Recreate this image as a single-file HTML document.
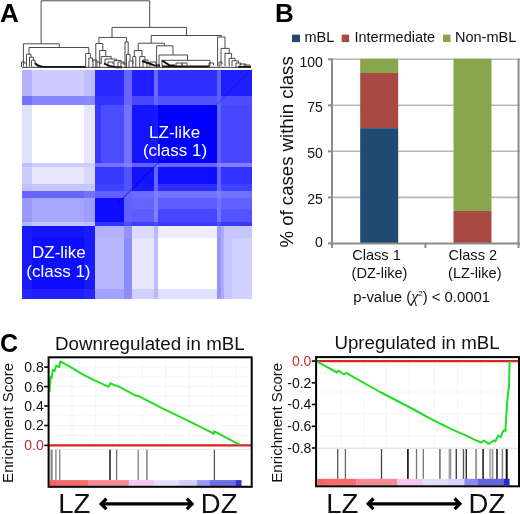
<!DOCTYPE html>
<html><head><meta charset="utf-8">
<style>
html,body{margin:0;padding:0;background:#fff;}
body{width:520px;height:514px;overflow:hidden;position:relative;}
svg{position:absolute;left:0;top:0;will-change:transform;}
text{font-family:"Liberation Sans",sans-serif;}
</style></head><body>
<svg width="520" height="514" viewBox="0 0 520 514">
<!-- Panel A -->
<text x="0" y="21.8" font-size="26" font-weight="bold" fill="#000">A</text>
<path d="M41.1 43.8V0.8H149.7V27.4 M23.4 66.5V43.8H59.2V47.5 M29 54.2V47.5H88.8V53.4 M26.5 66.5V54.2H31V57.2 M29.5 66.5V57.2H33.4V60.3 M31.5 66.5V60.3H35V63.5 M85.7 67V53.4H90.3V58 M88.8 67V58H92.6V62 M112 37.4V27.4H186.5V35.5 M98.9 43.5V37.4H126.6V42 M95.8 68V43.5H102.8V50.5 M99.7 68V50.5H105.8V56.6 M101.2 64V56.6H111.2V59 M105 64V59H116.6V60.5 M114 66V60.5H121V62 M125 68V42H128.2V54.3 M126.5 68V54.3H130V60 M151.2 43.2V35.5H221.3V37 M217.6 66V37H225V48.4 M138.2 50.5V43.2H164.3V45.8 M134.3 56.6V50.5H142V56.6 M132.8 68V56.6H135.8V68 M139.7 68V56.6H145V62 M156.6 68V45.8H173V55 M159 68V55H187.5V60.3 M162 66V60.3H210V66 M221 66V48.4H229.2V53.4 M225 66V53.4H231.6V58.4 M229.2 66V58.4H235V60.8 M232 66V60.8H238.3V63 M236 67V63H241V65 M21.5 67V62H25V64 M93 68V60H97V63 M108 68V62H113V64 M118 68V62H124V65 M143 68V60H148V63 M147 68V63H151V65 M129 68V61H133V64 M240 68V64H246V66 M97 68V62H100V64 M121 68V63H125V65 M150 68V62H156V64 M176 68V63H182V65 M182 68V63H187V65.5 M209 67V63H213.5V65 M219 67V62H222V64 M244 68V65H250V66.5" fill="none" stroke="#4a4a4a" stroke-width="1"/>
<path d="M35 63.2 Q37.5 66.6 44 66.9 L85.5 67.1 M104 63.5 Q110 67 116 67.2 H122 M162 66.6 H209.5 M238 67 H251 M142 61 L155 65.6 H160 M162 60.5 L170 65.5 H175" stroke="#111" stroke-width="2" fill="none"/>
<path d="M22 67.3 H251" stroke="#333" stroke-width="1.2" fill="none" opacity="0.8"/>
<g shape-rendering="crispEdges">
<rect x="22" y="69.6" width="9.80" height="26.70" fill="#b2b2ff"/>
<rect x="31.5" y="69.6" width="52.80" height="26.70" fill="#ccccff"/>
<rect x="84" y="69.6" width="11.70" height="26.70" fill="#bfbfff"/>
<rect x="95.4" y="69.6" width="29.20" height="26.70" fill="#2b2bff"/>
<rect x="124.3" y="69.6" width="8.30" height="26.70" fill="#6666ff"/>
<rect x="132.3" y="69.6" width="22.00" height="26.70" fill="#1f1fff"/>
<rect x="154" y="69.6" width="4.50" height="26.70" fill="#6b6bff"/>
<rect x="158.2" y="69.6" width="58.70" height="26.70" fill="#2e2eff"/>
<rect x="216.6" y="69.6" width="4.50" height="26.70" fill="#6161ff"/>
<rect x="220.8" y="69.6" width="31.50" height="26.70" fill="#1f1fff"/>
<rect x="22" y="96" width="9.80" height="9.10" fill="#7373ff"/>
<rect x="31.5" y="96" width="52.80" height="9.10" fill="#8787ff"/>
<rect x="84" y="96" width="11.70" height="9.10" fill="#8c8cff"/>
<rect x="95.4" y="96" width="29.20" height="9.10" fill="#3333ff"/>
<rect x="124.3" y="96" width="8.30" height="9.10" fill="#6666ff"/>
<rect x="132.3" y="96" width="22.00" height="9.10" fill="#4747ff"/>
<rect x="154" y="96" width="4.50" height="9.10" fill="#6666ff"/>
<rect x="158.2" y="96" width="58.70" height="9.10" fill="#5252ff"/>
<rect x="216.6" y="96" width="4.50" height="9.10" fill="#6161ff"/>
<rect x="220.8" y="96" width="31.50" height="9.10" fill="#4d4dff"/>
<rect x="22" y="104.8" width="9.80" height="58.80" fill="#e0e0ff"/>
<rect x="31.5" y="104.8" width="52.80" height="58.80" fill="#ffffff"/>
<rect x="84" y="104.8" width="11.70" height="58.80" fill="#e6e6ff"/>
<rect x="95.4" y="104.8" width="29.20" height="58.80" fill="#4d4dff"/>
<rect x="124.3" y="104.8" width="8.30" height="58.80" fill="#7373ff"/>
<rect x="132.3" y="104.8" width="22.00" height="58.80" fill="#1414ff"/>
<rect x="154" y="104.8" width="4.50" height="58.80" fill="#1919ff"/>
<rect x="158.2" y="104.8" width="58.70" height="58.80" fill="#0000ff"/>
<rect x="216.6" y="104.8" width="4.50" height="58.80" fill="#6161ff"/>
<rect x="220.8" y="104.8" width="31.50" height="58.80" fill="#4747ff"/>
<rect x="22" y="163.3" width="9.80" height="4.40" fill="#bfbfff"/>
<rect x="31.5" y="163.3" width="52.80" height="4.40" fill="#ccccff"/>
<rect x="84" y="163.3" width="11.70" height="4.40" fill="#ccccff"/>
<rect x="95.4" y="163.3" width="29.20" height="4.40" fill="#7373ff"/>
<rect x="124.3" y="163.3" width="8.30" height="4.40" fill="#8080ff"/>
<rect x="132.3" y="163.3" width="22.00" height="4.40" fill="#6161ff"/>
<rect x="154" y="163.3" width="4.50" height="4.40" fill="#7373ff"/>
<rect x="158.2" y="163.3" width="58.70" height="4.40" fill="#6666ff"/>
<rect x="216.6" y="163.3" width="4.50" height="4.40" fill="#8080ff"/>
<rect x="220.8" y="163.3" width="31.50" height="4.40" fill="#8080ff"/>
<rect x="22" y="167.4" width="9.80" height="17.20" fill="#ccccff"/>
<rect x="31.5" y="167.4" width="52.80" height="17.20" fill="#e6e6ff"/>
<rect x="84" y="167.4" width="11.70" height="17.20" fill="#d9d9ff"/>
<rect x="95.4" y="167.4" width="29.20" height="17.20" fill="#3838ff"/>
<rect x="124.3" y="167.4" width="8.30" height="17.20" fill="#5252ff"/>
<rect x="132.3" y="167.4" width="22.00" height="17.20" fill="#1212ff"/>
<rect x="154" y="167.4" width="4.50" height="17.20" fill="#6666ff"/>
<rect x="158.2" y="167.4" width="58.70" height="17.20" fill="#0f0fff"/>
<rect x="216.6" y="167.4" width="4.50" height="17.20" fill="#6666ff"/>
<rect x="220.8" y="167.4" width="31.50" height="17.20" fill="#3333ff"/>
<rect x="22" y="184.3" width="9.80" height="6.50" fill="#bfbfff"/>
<rect x="31.5" y="184.3" width="52.80" height="6.50" fill="#c7c7ff"/>
<rect x="84" y="184.3" width="11.70" height="6.50" fill="#c7c7ff"/>
<rect x="95.4" y="184.3" width="29.20" height="6.50" fill="#4040ff"/>
<rect x="124.3" y="184.3" width="8.30" height="6.50" fill="#5252ff"/>
<rect x="132.3" y="184.3" width="22.00" height="6.50" fill="#1919ff"/>
<rect x="154" y="184.3" width="4.50" height="6.50" fill="#6666ff"/>
<rect x="158.2" y="184.3" width="58.70" height="6.50" fill="#2e2eff"/>
<rect x="216.6" y="184.3" width="4.50" height="6.50" fill="#6666ff"/>
<rect x="220.8" y="184.3" width="31.50" height="6.50" fill="#4040ff"/>
<rect x="22" y="190.5" width="9.80" height="8.10" fill="#6666ff"/>
<rect x="31.5" y="190.5" width="52.80" height="8.10" fill="#6666ff"/>
<rect x="84" y="190.5" width="11.70" height="8.10" fill="#7373ff"/>
<rect x="95.4" y="190.5" width="29.20" height="8.10" fill="#6161ff"/>
<rect x="124.3" y="190.5" width="8.30" height="8.10" fill="#6666ff"/>
<rect x="132.3" y="190.5" width="22.00" height="8.10" fill="#6b6bff"/>
<rect x="154" y="190.5" width="4.50" height="8.10" fill="#8080ff"/>
<rect x="158.2" y="190.5" width="58.70" height="8.10" fill="#7373ff"/>
<rect x="216.6" y="190.5" width="4.50" height="8.10" fill="#8080ff"/>
<rect x="220.8" y="190.5" width="31.50" height="8.10" fill="#7373ff"/>
<rect x="22" y="198.3" width="9.80" height="10.50" fill="#9999ff"/>
<rect x="31.5" y="198.3" width="52.80" height="10.50" fill="#a6a6ff"/>
<rect x="84" y="198.3" width="11.70" height="10.50" fill="#9e9eff"/>
<rect x="95.4" y="198.3" width="29.20" height="10.50" fill="#0d0dff"/>
<rect x="124.3" y="198.3" width="8.30" height="10.50" fill="#6161ff"/>
<rect x="132.3" y="198.3" width="22.00" height="10.50" fill="#6666ff"/>
<rect x="154" y="198.3" width="4.50" height="10.50" fill="#8080ff"/>
<rect x="158.2" y="198.3" width="58.70" height="10.50" fill="#5e5eff"/>
<rect x="216.6" y="198.3" width="4.50" height="10.50" fill="#7373ff"/>
<rect x="220.8" y="198.3" width="31.50" height="10.50" fill="#6161ff"/>
<rect x="22" y="208.5" width="9.80" height="13.30" fill="#9999ff"/>
<rect x="31.5" y="208.5" width="52.80" height="13.30" fill="#a6a6ff"/>
<rect x="84" y="208.5" width="11.70" height="13.30" fill="#9e9eff"/>
<rect x="95.4" y="208.5" width="29.20" height="13.30" fill="#0d0dff"/>
<rect x="124.3" y="208.5" width="8.30" height="13.30" fill="#6161ff"/>
<rect x="132.3" y="208.5" width="22.00" height="13.30" fill="#5c5cff"/>
<rect x="154" y="208.5" width="4.50" height="13.30" fill="#8080ff"/>
<rect x="158.2" y="208.5" width="58.70" height="13.30" fill="#4747ff"/>
<rect x="216.6" y="208.5" width="4.50" height="13.30" fill="#7373ff"/>
<rect x="220.8" y="208.5" width="31.50" height="13.30" fill="#5454ff"/>
<rect x="22" y="221.5" width="9.80" height="5.20" fill="#b8b8ff"/>
<rect x="31.5" y="221.5" width="52.80" height="5.20" fill="#c7c7ff"/>
<rect x="84" y="221.5" width="11.70" height="5.20" fill="#bfbfff"/>
<rect x="95.4" y="221.5" width="29.20" height="5.20" fill="#3333ff"/>
<rect x="124.3" y="221.5" width="8.30" height="5.20" fill="#4d4dff"/>
<rect x="132.3" y="221.5" width="22.00" height="5.20" fill="#4040ff"/>
<rect x="154" y="221.5" width="4.50" height="5.20" fill="#4d4dff"/>
<rect x="158.2" y="221.5" width="58.70" height="5.20" fill="#3838ff"/>
<rect x="216.6" y="221.5" width="4.50" height="5.20" fill="#4d4dff"/>
<rect x="220.8" y="221.5" width="31.50" height="5.20" fill="#3838ff"/>
<rect x="22" y="226.4" width="9.80" height="11.90" fill="#1919ff"/>
<rect x="31.5" y="226.4" width="52.80" height="11.90" fill="#1414ff"/>
<rect x="84" y="226.4" width="11.70" height="11.90" fill="#1919ff"/>
<rect x="95.4" y="226.4" width="29.20" height="11.90" fill="#b2b2ff"/>
<rect x="124.3" y="226.4" width="8.30" height="11.90" fill="#9494ff"/>
<rect x="132.3" y="226.4" width="22.00" height="11.90" fill="#dbdbff"/>
<rect x="154" y="226.4" width="4.50" height="11.90" fill="#babaff"/>
<rect x="158.2" y="226.4" width="58.70" height="11.90" fill="#ededff"/>
<rect x="216.6" y="226.4" width="4.50" height="11.90" fill="#9999ff"/>
<rect x="220.8" y="226.4" width="31.50" height="11.90" fill="#c7c7ff"/>
<rect x="22" y="238" width="9.80" height="50.80" fill="#1919ff"/>
<rect x="31.5" y="238" width="52.80" height="50.80" fill="#0d0dff"/>
<rect x="84" y="238" width="11.70" height="50.80" fill="#1919ff"/>
<rect x="95.4" y="238" width="29.20" height="50.80" fill="#b8b8ff"/>
<rect x="124.3" y="238" width="8.30" height="50.80" fill="#8c8cff"/>
<rect x="132.3" y="238" width="22.00" height="50.80" fill="#e6e6ff"/>
<rect x="154" y="238" width="4.50" height="50.80" fill="#bfbfff"/>
<rect x="158.2" y="238" width="58.70" height="50.80" fill="#ffffff"/>
<rect x="216.6" y="238" width="4.50" height="50.80" fill="#9494ff"/>
<rect x="220.8" y="238" width="31.50" height="50.80" fill="#d1d1ff"/>
<rect x="22" y="288.5" width="9.80" height="10.40" fill="#2626ff"/>
<rect x="31.5" y="288.5" width="52.80" height="10.40" fill="#1f1fff"/>
<rect x="84" y="288.5" width="11.70" height="10.40" fill="#2626ff"/>
<rect x="95.4" y="288.5" width="29.20" height="10.40" fill="#a3a3ff"/>
<rect x="124.3" y="288.5" width="8.30" height="10.40" fill="#8c8cff"/>
<rect x="132.3" y="288.5" width="22.00" height="10.40" fill="#d1d1ff"/>
<rect x="154" y="288.5" width="4.50" height="10.40" fill="#b8b8ff"/>
<rect x="158.2" y="288.5" width="58.70" height="10.40" fill="#e0e0ff"/>
<rect x="216.6" y="288.5" width="4.50" height="10.40" fill="#9494ff"/>
<rect x="220.8" y="288.5" width="31.50" height="10.40" fill="#d1d1ff"/>
<rect x="220.8" y="226.4" width="2.70" height="72.20" fill="#adadff"/>
<rect x="223.5" y="226.4" width="8.90" height="72.20" fill="#c7c7ff"/>
<rect x="95.4" y="104.8" width="5.10" height="58.50" fill="#3838ff"/>
</g>
<path d="M118 203L161 160" stroke="#0000c0" stroke-width="1.6" opacity="0.45"/><path d="M215 106L252 69" stroke="#0000c0" stroke-width="1.4" opacity="0.25"/>
<text x="174.6" y="137.8" font-size="17" fill="#fff" text-anchor="middle">LZ-like</text>
<text x="175" y="155.6" font-size="17" fill="#fff" text-anchor="middle">(class 1)</text>
<text x="58.9" y="257.8" font-size="17" fill="#fff" text-anchor="middle">DZ-like</text>
<text x="58.4" y="277" font-size="17" fill="#fff" text-anchor="middle">(class 1)</text>

<!-- Panel B -->
<text x="275" y="22" font-size="26" font-weight="bold" fill="#000">B</text>
<rect x="292" y="34.6" width="8" height="7.5" fill="#204a72"/>
<text x="304.5" y="42.2" font-size="14.5" fill="#111">mBL</text>
<rect x="341.7" y="34.6" width="7.5" height="7.5" fill="#a84a42"/>
<text x="354.5" y="42.2" font-size="14.5" fill="#111">Intermediate</text>
<rect x="443" y="34.6" width="7.5" height="7.5" fill="#8aa64c"/>
<text x="455" y="42.2" font-size="14.5" fill="#111">Non-mBL</text>
<g stroke="#b8b8b8" stroke-width="1.6">
<line x1="332" y1="59.3" x2="520" y2="59.3"/>
<line x1="332" y1="105.3" x2="520" y2="105.3"/>
<line x1="332" y1="151.3" x2="520" y2="151.3"/>
<line x1="332" y1="197.4" x2="520" y2="197.4"/>
</g>
<rect x="360.2" y="58.75" width="38" height="14.25" fill="#8aa64c"/>
<rect x="360.2" y="73" width="38" height="55.2" fill="#a84a42"/>
<rect x="360.2" y="128.2" width="38" height="115" fill="#204a72"/>
<rect x="453.5" y="58.75" width="38" height="152.25" fill="#8aa64c"/>
<rect x="453.5" y="211" width="38" height="32.2" fill="#a84a42"/>
<g stroke="#8c8c8c" stroke-width="2">
<line x1="332" y1="58.5" x2="332" y2="248"/>
<line x1="331" y1="243.4" x2="520" y2="243.4"/>
<line x1="328" y1="59.3" x2="332" y2="59.3"/>
<line x1="328" y1="105.3" x2="332" y2="105.3"/>
<line x1="328" y1="151.3" x2="332" y2="151.3"/>
<line x1="328" y1="197.4" x2="332" y2="197.4"/>
<line x1="328" y1="243.4" x2="332" y2="243.4"/>
<line x1="425.4" y1="243.4" x2="425.4" y2="248"/>
<line x1="518.5" y1="58.5" x2="518.5" y2="248"/>
</g>
<g font-size="14" fill="#111" text-anchor="end">
<text x="322.8" y="66.5">100</text>
<text x="322.8" y="112.2">75</text>
<text x="322.8" y="158.2">50</text>
<text x="322.8" y="204.2">25</text>
<text x="322.8" y="247.2">0</text>
</g>
<text transform="translate(292.5 247.5) rotate(-90)" font-size="18.6" fill="#111">% of cases within class</text>
<g font-size="14.6" fill="#111" text-anchor="middle">
<text x="376.5" y="259.8">Class 1</text>
<text x="379.5" y="277.5">(DZ-like)</text>
<text x="472.8" y="259.8">Class 2</text>
<text x="474.8" y="277.5">(LZ-like)</text>
</g>
<text x="353.2" y="302" font-size="14.9" fill="#111">p-value (<tspan font-family="Liberation Serif" font-style="italic" font-size="16">χ</tspan><tspan font-size="8" dy="-6">2</tspan><tspan dy="6">) &lt; 0.0001</tspan></text>

<!-- Panel C -->
<text x="0" y="351.8" font-size="25" font-weight="bold" fill="#000">C</text>
<text x="55" y="349.7" font-size="18.75" fill="#111">Downregulated in mBL</text>
<text x="334.4" y="349.3" font-size="18.7" fill="#111">Upregulated in mBL</text>

<g stroke="#f5f5f5" stroke-width="1">
<line x1="72" y1="358" x2="72" y2="445"/><line x1="95.4" y1="358" x2="95.4" y2="445"/><line x1="118.8" y1="358" x2="118.8" y2="445"/><line x1="142.2" y1="358" x2="142.2" y2="445"/><line x1="165.6" y1="358" x2="165.6" y2="445"/><line x1="189" y1="358" x2="189" y2="445"/><line x1="212.4" y1="358" x2="212.4" y2="445"/><line x1="235.8" y1="358" x2="235.8" y2="445"/>
<line x1="49" y1="367.1" x2="251" y2="367.1"/><line x1="49" y1="376.9" x2="251" y2="376.9"/><line x1="49" y1="386.6" x2="251" y2="386.6"/><line x1="49" y1="396.3" x2="251" y2="396.3"/><line x1="49" y1="406" x2="251" y2="406"/><line x1="49" y1="415.8" x2="251" y2="415.8"/><line x1="49" y1="425.5" x2="251" y2="425.5"/><line x1="49" y1="435.4" x2="251" y2="435.4"/>
<line x1="340.6" y1="358" x2="340.6" y2="448"/><line x1="363.6" y1="358" x2="363.6" y2="448"/><line x1="386" y1="358" x2="386" y2="448"/><line x1="409.3" y1="358" x2="409.3" y2="448"/><line x1="434.3" y1="358" x2="434.3" y2="448"/><line x1="457.6" y1="358" x2="457.6" y2="448"/><line x1="480.9" y1="358" x2="480.9" y2="448"/><line x1="504" y1="358" x2="504" y2="448"/>
<line x1="317" y1="392" x2="518" y2="392"/><line x1="317" y1="413.4" x2="518" y2="413.4"/><line x1="317" y1="435.7" x2="518" y2="435.7"/>
</g>
<line x1="49" y1="449.3" x2="251" y2="449.3" stroke="#e4e4e4" stroke-width="1"/>
<line x1="317" y1="448.2" x2="518" y2="448.2" stroke="#dcdcdc" stroke-width="1"/>
<g><line x1="51.6" y1="449.8" x2="51.6" y2="480.2" stroke="#8a8a8a" stroke-width="2.2"/><line x1="55.9" y1="449.8" x2="55.9" y2="480.2" stroke="#888" stroke-width="1.4"/><line x1="59.75" y1="449.8" x2="59.75" y2="480.2" stroke="#888" stroke-width="1.4"/><line x1="110" y1="449.8" x2="110" y2="480.2" stroke="#333" stroke-width="1.7"/><line x1="116.6" y1="449.8" x2="116.6" y2="480.2" stroke="#777" stroke-width="1.4"/><line x1="138.2" y1="449.8" x2="138.2" y2="480.2" stroke="#888" stroke-width="1.4"/><line x1="146.9" y1="449.8" x2="146.9" y2="480.2" stroke="#777" stroke-width="1.4"/><line x1="214.4" y1="449.8" x2="214.4" y2="480.2" stroke="#555" stroke-width="1.3"/><line x1="337.7" y1="449" x2="337.7" y2="479" stroke="#555" stroke-width="1.3"/><line x1="345.4" y1="449" x2="345.4" y2="479" stroke="#666" stroke-width="1.3"/><line x1="381.5" y1="449" x2="381.5" y2="479" stroke="#444" stroke-width="1.3"/><line x1="407.9" y1="449" x2="407.9" y2="479" stroke="#222" stroke-width="1.8"/><line x1="416.5" y1="449" x2="416.5" y2="479" stroke="#777" stroke-width="1.3"/><line x1="423.3" y1="449" x2="423.3" y2="479" stroke="#777" stroke-width="1.3"/><line x1="439.9" y1="449" x2="439.9" y2="479" stroke="#777" stroke-width="1.7"/><line x1="450" y1="449" x2="450" y2="479" stroke="#999" stroke-width="2.6"/><line x1="456.3" y1="449" x2="456.3" y2="479" stroke="#444" stroke-width="1.4"/><line x1="463.5" y1="449" x2="463.5" y2="479" stroke="#555" stroke-width="1.4"/><line x1="466.3" y1="449" x2="466.3" y2="479" stroke="#333" stroke-width="1.4"/><line x1="476.1" y1="449" x2="476.1" y2="479" stroke="#999" stroke-width="2"/><line x1="483.1" y1="449" x2="483.1" y2="479" stroke="#222" stroke-width="1.6"/><line x1="490.2" y1="449" x2="490.2" y2="479" stroke="#aaa" stroke-width="1.8"/><line x1="492.6" y1="449" x2="492.6" y2="479" stroke="#999" stroke-width="1.6"/><line x1="497" y1="449" x2="497" y2="479" stroke="#222" stroke-width="1.6"/><line x1="502.4" y1="449" x2="502.4" y2="479" stroke="#888" stroke-width="1.6"/><line x1="506.7" y1="449" x2="506.7" y2="479" stroke="#111" stroke-width="2"/></g>
<rect x="49.5" y="480.1" width="6.70" height="6" fill="#f86262"/><rect x="56" y="480.1" width="32.10" height="6" fill="#fa6a6a"/><rect x="87.9" y="480.1" width="41.10" height="6" fill="#f88a92"/><rect x="128.8" y="480.1" width="25.20" height="6" fill="#f2c6ee"/><rect x="153.8" y="480.1" width="25.20" height="6" fill="#e0e0fa"/><rect x="178.8" y="480.1" width="18.50" height="6" fill="#d0d0f8"/><rect x="197.1" y="480.1" width="12.70" height="6" fill="#9a9af4"/><rect x="209.6" y="480.1" width="26.20" height="6" fill="#6a6ae4"/><rect x="235.6" y="480.1" width="5.90" height="6" fill="#3232c8"/>
<rect x="317.3" y="478.8" width="6.90" height="6.6" fill="#f86262"/><rect x="324" y="478.8" width="32.60" height="6.6" fill="#fa6a6a"/><rect x="356.4" y="478.8" width="41.10" height="6.6" fill="#f88a92"/><rect x="397.3" y="478.8" width="25.60" height="6.6" fill="#f2c6ee"/><rect x="422.7" y="478.8" width="25.50" height="6.6" fill="#e0e0fa"/><rect x="448" y="478.8" width="16.60" height="6.6" fill="#d4d4f8"/><rect x="464.4" y="478.8" width="13.50" height="6.6" fill="#8a8af0"/><rect x="477.7" y="478.8" width="26.00" height="6.6" fill="#6464e0"/><rect x="503.5" y="478.8" width="6.10" height="6.6" fill="#2828c4"/>
<line x1="48.5" y1="445.4" x2="251.5" y2="445.4" stroke="#d22" stroke-width="2.2"/>
<line x1="316" y1="361.1" x2="518.5" y2="361.1" stroke="#d22" stroke-width="2.2"/>
<polyline points="49.5,392 50.4,376.8 51.5,378.5 52.8,369.8 54.6,371.3 56.2,365.6 59.3,367.1 60.3,361.4 71.5,367.7 83.1,374.6 94.6,380.4 108.6,386.8 110.3,383.2 114.2,385.2 116.6,385.6 118,386.2 136.2,395.8 138.2,395.8 163,408.7 191.9,422.7 210.9,432.1 213.6,434 214.3,431.3 239.5,444.6" fill="none" stroke="#22dd22" stroke-width="2" stroke-linejoin="round"/>
<polyline points="316.3,361.2 336.9,372.5 338.3,370.6 344.1,374.5 346,372.9 380.1,392 382,393 410,407.5 431.2,419.1 452.3,429.7 466.3,435.6 473.8,439.3 481.2,442.5 483.8,440.6 489.1,443.8 493.9,440.4 495.4,441.5 498.1,435.6 500.7,437.2 502.9,431.4 504.4,430.3 505.5,430.9 506.1,420 507.1,403 508.1,393 509,386.6 509.6,361.3" fill="none" stroke="#22dd22" stroke-width="2" stroke-linejoin="round"/>
<rect x="48.6" y="357.3" width="203.1" height="129.5" fill="none" stroke="#000" stroke-width="2"/>
<rect x="316.1" y="357.1" width="202.9" height="129.2" fill="none" stroke="#000" stroke-width="2"/>
<g stroke="#000" stroke-width="1.6">
<line x1="44.2" y1="367.1" x2="48" y2="367.1"/><line x1="44.2" y1="386.6" x2="48" y2="386.6"/><line x1="44.2" y1="406" x2="48" y2="406"/><line x1="44.2" y1="425.5" x2="48" y2="425.5"/><line x1="44.2" y1="445.4" x2="48" y2="445.4"/>
<line x1="311.8" y1="361.1" x2="315.5" y2="361.1"/><line x1="311.8" y1="382.8" x2="315.5" y2="382.8"/><line x1="311.8" y1="404.5" x2="315.5" y2="404.5"/><line x1="311.8" y1="426.3" x2="315.5" y2="426.3"/><line x1="311.8" y1="448" x2="315.5" y2="448"/>
</g>
<g font-size="14" text-anchor="end" fill="#111">
<text x="43.8" y="372">0.8</text><text x="43.8" y="391.5">0.6</text><text x="43.8" y="411">0.4</text><text x="43.8" y="430.4">0.2</text><text x="43.8" y="450.3" fill="#c0303a">0.0</text>
<text x="311.4" y="366" fill="#c0303a">0.0</text><text x="311.4" y="387.7">-0.2</text><text x="311.4" y="409.4">-0.4</text><text x="311.4" y="431.2">-0.6</text><text x="311.4" y="452.9">-0.8</text>
</g>
<text transform="translate(12.6 482.9) rotate(-90)" font-size="15.1" fill="#111">Enrichment Score</text>
<text transform="translate(281.7 482.7) rotate(-90)" font-size="15.1" fill="#111">Enrichment Score</text>
<g font-size="27.5" fill="#111">
<text x="58.3" y="513.4">LZ</text><text x="200.8" y="513.4">DZ</text>
<text x="326.3" y="513.4">LZ</text><text x="468.6" y="513.4">DZ</text>
</g>
<g fill="none" stroke="#000" stroke-width="3.2">
<path d="M101.5 503.9H191.8 M106.5 498.6L101.2 503.9L106.5 509.2 M186.8 498.6L192.1 503.9L186.8 509.2"/>
<path d="M368.5 503.8H459.6 M373.5 498.5L368.2 503.8L373.5 509.1 M454.6 498.5L459.9 503.8L454.6 509.1"/>
</g>

</svg>
</body></html>
